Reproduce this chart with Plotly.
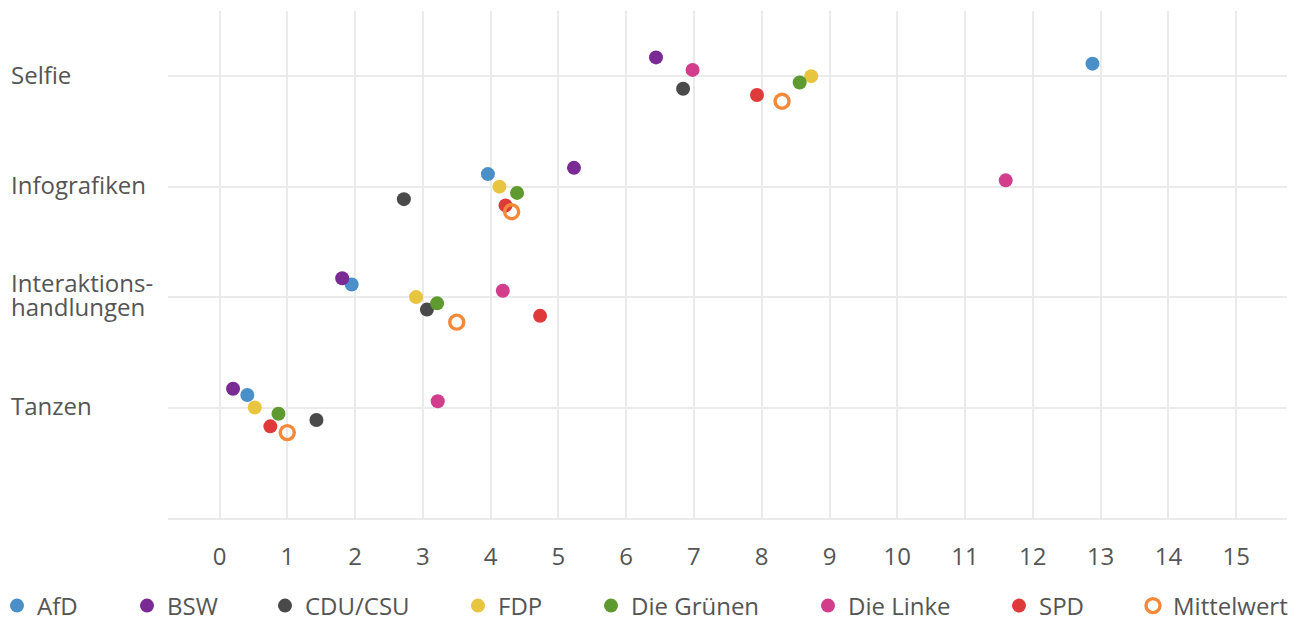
import plotly.graph_objects as go

# ---- data ----
categories = ["Selfie", "Infografiken", "Interaktions-<br>handlungen", "Tanzen"]
parties = ["AfD", "BSW", "CDU/CSU", "FDP", "Die Grünen", "Die Linke", "SPD", "Mittelwert"]
afd = [12.88, 3.96, 1.95, 0.41]
bsw = [6.44, 5.23, 1.81, 0.20]
cdu = [6.84, 2.72, 3.06, 1.43]
fdp = [8.73, 4.13, 2.90, 0.52]
gruene = [8.56, 4.39, 3.21, 0.87]
linke = [6.98, 11.60, 4.18, 3.22]
spd = [7.93, 4.22, 4.73, 0.75]
mittelwert = [8.30, 4.31, 3.50, 1.00]
x_ticks = list(range(0, 16))

# ---- style ----
values = [afd, bsw, cdu, fdp, gruene, linke, spd, mittelwert]
colors = ["#4a8fc7", "#7a2a94", "#4a4a4a", "#e8c53f", "#5e9a2f", "#d23d8c", "#df3a3a", "#f5893a"]
offset_steps = [-2, -3, 2, 0, 1, -1, 3, 4]   # vertical dodge within a category
step = 0.0567
PAGE_OFF = 8                                   # default body margin of the page
legend_px = [17, 147, 285, 478, 611, 828, 1019, 1153]  # symbol centres (page px)

W, H = 1303 - PAGE_OFF, 619 - PAGE_OFF
ML, MR, MT, MB = 160, 16, 3, 101
PW = W - ML - MR
PH = H - MT - MB
FONT = "Open Sans"
FS = 24
TXT = "#555555"
GRID = "#ebebeb"

fig = go.Figure()
for i, (name, vals) in enumerate(zip(parties, values)):
    ys = [ci + offset_steps[i] * step for ci in range(len(categories))]
    if name == "Mittelwert":
        marker = dict(size=14, symbol="circle-open", color=colors[i], line=dict(width=3.4))
    else:
        marker = dict(size=14, color=colors[i], line=dict(width=0))
    lg = "legend" if i == 0 else f"legend{i + 1}"
    fig.add_trace(go.Scatter(
        x=vals, y=ys, mode="markers", name=name, marker=marker,
        legend=lg, hovertemplate=name + ": %{x}<extra></extra>",
    ))

legend_y = -((606 - PAGE_OFF) - (MT + PH)) / PH
layout_legends = {}
for i, px in enumerate(legend_px):
    lg = "legend" if i == 0 else f"legend{i + 1}"
    layout_legends[lg] = dict(
        x=(px - PAGE_OFF - 20 - ML) / PW, xanchor="left", y=legend_y, yanchor="middle",
        orientation="h", bgcolor="rgba(0,0,0,0)", borderwidth=0,
        font=dict(family=FONT, size=FS, color=TXT), itemwidth=30,
    )

annotations = []
for ci, cat in enumerate(categories):
    lines = cat.split("<br>")
    n = len(lines)
    for li, line in enumerate(lines):
        shift = ((n - 1) / 2 - li) * 24
        annotations.append(dict(
            text=line, xref="paper", x=0, xshift=-(ML - (10 - PAGE_OFF)) - 1, xanchor="left",
            yref="y", y=ci, yshift=shift + 2 + (1 if n > 1 else 0), yanchor="middle",
            showarrow=False, font=dict(family=FONT, size=FS, color=TXT), align="left",
        ))

fig.update_layout(
    width=W, height=H,
    margin=dict(l=ML, r=MR, t=MT, b=MB, autoexpand=False),
    paper_bgcolor="white", plot_bgcolor="white",
    font=dict(family=FONT, color=TXT),
    showlegend=True,
    annotations=annotations,
    xaxis=dict(
        range=[-0.76, 15.75], tickvals=x_ticks, showgrid=True, gridcolor=GRID,
        gridwidth=1.5, zeroline=False, showline=True, linecolor=GRID, linewidth=1.5,
        ticks="outside", ticklen=16, tickcolor="rgba(0,0,0,0)",
        tickfont=dict(family=FONT, size=FS, color=TXT), fixedrange=True,
    ),
    yaxis=dict(
        range=[4, -0.59], tickvals=[0, 1, 2, 3, 4], showticklabels=False,
        showgrid=True, gridcolor=GRID, gridwidth=1.5, zeroline=False, fixedrange=True,
    ),
    **layout_legends,
)

fig.write_html("out.html")
